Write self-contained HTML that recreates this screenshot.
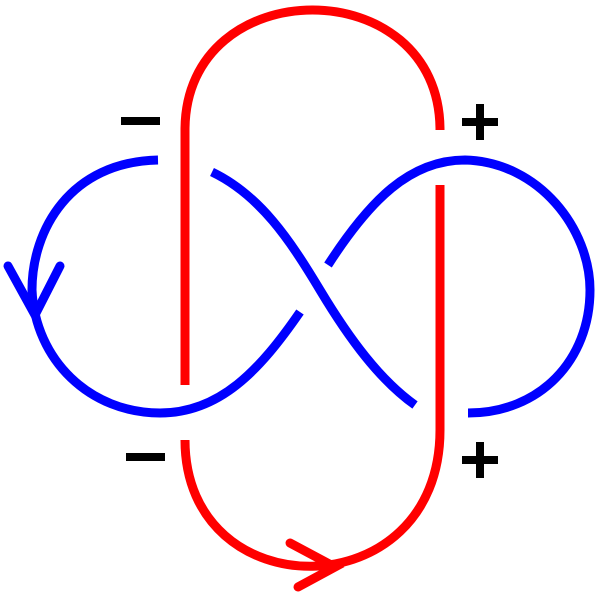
<!DOCTYPE html>
<html><head><style>body{margin:0;background:#fff}</style></head><body>
<svg width="600" height="600" viewBox="0 0 600 600" xmlns="http://www.w3.org/2000/svg">
<g fill="none" stroke-width="9" stroke-linecap="butt">
<path d="M185,385 L185,130 C185,-30 440,-30 440,130" stroke="#f00"/>
<path d="M440,185 L440,430 C440,610 185,610 185,440" stroke="#f00"/>
<path d="M290,543 L335,567 L298,587" stroke="#f00" stroke-linecap="round"/>
<path d="M158,160 C70,162 32,230 32,290 C35,360 90,413 160,413 C220,413 260,370 300,312" stroke="#00f"/>
<path d="M328,265 C370,200 410,160 465,160 C540,162 590,230 590,290 C590,360 540,413 468,413" stroke="#00f"/>
<path d="M212,172 C260,195 290,240 320,290 C350,340 380,380 415,405" stroke="#00f"/>
<path d="M8,266 L35,315 L60,266" stroke="#00f" stroke-linecap="round"/>
</g>
<g fill="#000">
<rect x="121" y="117" width="39" height="8"/>
<rect x="126" y="453" width="39" height="8"/>
<rect x="462" y="118" width="36" height="8"/><rect x="476" y="104" width="8" height="36"/>
<rect x="462" y="456" width="36" height="8"/><rect x="476" y="442" width="8" height="36"/>
</g>
</svg>
</body></html>
